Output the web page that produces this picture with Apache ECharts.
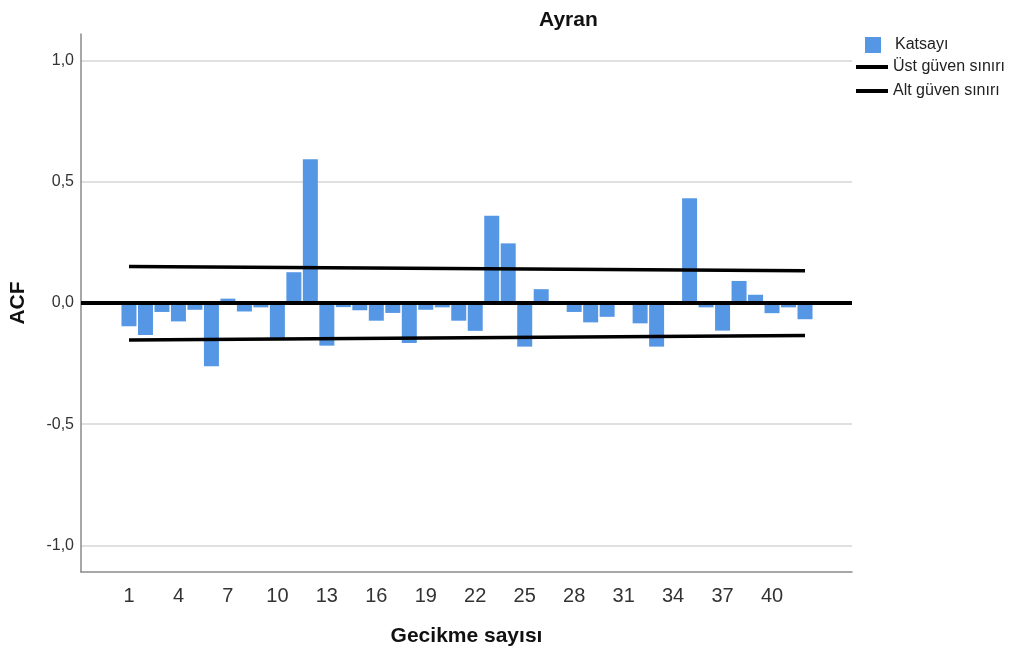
<!DOCTYPE html>
<html>
<head>
<meta charset="utf-8">
<script src="https://cdn.jsdelivr.net/npm/echarts@6/dist/echarts.min.js"></script>
<style>
  html, body { margin: 0; padding: 0; background: #ffffff; }
  #chart { width: 1019px; height: 654px; }
</style>
</head>
<body>
<div id="chart"></div>
<script>
// Gecikme (lag) numbers and autocorrelation coefficients
const lags = [1, 2, 3, 4, 5, 6, 7, 8, 9, 10, 11, 12, 13, 14, 15, 16, 17, 18, 19, 20, 21,
              22, 23, 24, 25, 26, 27, 28, 29, 30, 31, 32, 33, 34, 35, 36, 37, 38, 39, 40, 41, 42];
const katsayi = [-0.096, -0.132, -0.037, -0.076, -0.028, -0.261, 0.018, -0.035, -0.018, -0.144,
                 0.127, 0.593, -0.176, -0.017, -0.030, -0.073, -0.041, -0.165, -0.028, -0.018,
                 -0.073, -0.115, 0.360, 0.246, -0.180, 0.057, -0.005, -0.037, -0.080, -0.057,
                 -0.004, -0.084, -0.180, 0.003, 0.432, -0.018, -0.114, 0.091, 0.034, -0.042,
                 -0.018, -0.067];

// Confidence limits at the first and last lag
const limitLags = [1, 42];
const ustSinir = [0.151, 0.133];
const altSinir = [-0.153, -0.134];

// Tick labels
const xTicks = [1, 4, 7, 10, 13, 16, 19, 22, 25, 28, 31, 34, 37, 40];
const yTicks = [-1, -0.5, 0, 0.5, 1];

const font = 'Liberation Sans, Arial, sans-serif';
const barColor = '#5597e5';

const chart = echarts.init(document.getElementById('chart'), null, { renderer: 'canvas' });

chart.setOption({
  backgroundColor: '#ffffff',
  animation: false,
  title: {
    text: 'Ayran',
    left: 534,
    top: 5,
    textStyle: { fontFamily: font, fontSize: 21, fontWeight: 'bold', color: '#111' }
  },
  legend: [
    {
      data: [{ name: 'Katsayı', icon: 'rect' }],
      left: 865,
      top: 35,
      padding: 0,
      itemWidth: 16,
      itemHeight: 16,
      textStyle: { fontFamily: font, fontSize: 16, lineHeight: 16, color: '#222', padding: [4, 0, 0, 9] }
    },
    {
      data: [
        { name: 'Üst güven sınırı', icon: 'rect' },
        { name: 'Alt güven sınırı', icon: 'rect' }
      ],
      orient: 'vertical',
      left: 856,
      top: 57,
      padding: 0,
      itemWidth: 32,
      itemHeight: 4,
      itemGap: 4,
      textStyle: { fontFamily: font, fontSize: 16, lineHeight: 16, color: '#222', padding: [4, 0, 0, 0] }
    }
  ],
  grid: { left: 81, right: 167, top: 34, bottom: 82, containLabel: false },
  xAxis: {
    type: 'value',
    min: -1.91,
    max: 44.85,
    name: 'Gecikme sayısı',
    nameLocation: 'middle',
    nameGap: 54,
    nameTextStyle: { fontFamily: font, fontSize: 21, fontWeight: 'bold', color: '#111' },
    axisLine: { show: true, onZero: false, lineStyle: { color: '#8a8a8a', width: 1.5 } },
    axisTick: { show: false, customValues: xTicks },
    axisLabel: {
      customValues: xTicks,
      margin: 14,
      fontFamily: font,
      fontSize: 20,
      color: '#333',
      formatter: v => String(v)
    },
    splitLine: { show: false }
  },
  yAxis: {
    type: 'value',
    min: -1.11,
    max: 1.11,
    name: 'ACF',
    nameLocation: 'middle',
    nameRotate: 90,
    nameGap: 52,
    nameTextStyle: { fontFamily: font, fontSize: 21, fontWeight: 'bold', color: '#111' },
    axisLine: { show: true, onZero: false, lineStyle: { color: '#8a8a8a', width: 1.5 } },
    axisTick: { show: false, customValues: yTicks },
    axisLabel: {
      customValues: yTicks,
      margin: 7,
      fontFamily: font,
      fontSize: 16,
      color: '#333',
      formatter: v => v.toFixed(1).replace('.', ',')
    },
    splitLine: { show: true, lineStyle: { color: '#d6d6d6', width: 1.5 } }
  },
  series: [
    {
      name: 'Katsayı',
      type: 'bar',
      data: lags.map((l, i) => [l, katsayi[i]]),
      barWidth: 15,
      itemStyle: { color: barColor },
      z: 2,
      markLine: {
        silent: true,
        symbol: 'none',
        label: { show: false },
        lineStyle: { color: '#000', width: 4, type: 'solid' },
        data: [{ yAxis: 0 }],
        z: 5
      }
    },
    {
      name: 'Üst güven sınırı',
      type: 'line',
      data: limitLags.map((l, i) => [l, ustSinir[i]]),
      symbol: 'none',
      lineStyle: { color: '#000', width: 3.5 },
      itemStyle: { color: '#000' },
      z: 4
    },
    {
      name: 'Alt güven sınırı',
      type: 'line',
      data: limitLags.map((l, i) => [l, altSinir[i]]),
      symbol: 'none',
      lineStyle: { color: '#000', width: 3.5 },
      itemStyle: { color: '#000' },
      z: 4
    }
  ]
});
</script>
</body>
</html>
